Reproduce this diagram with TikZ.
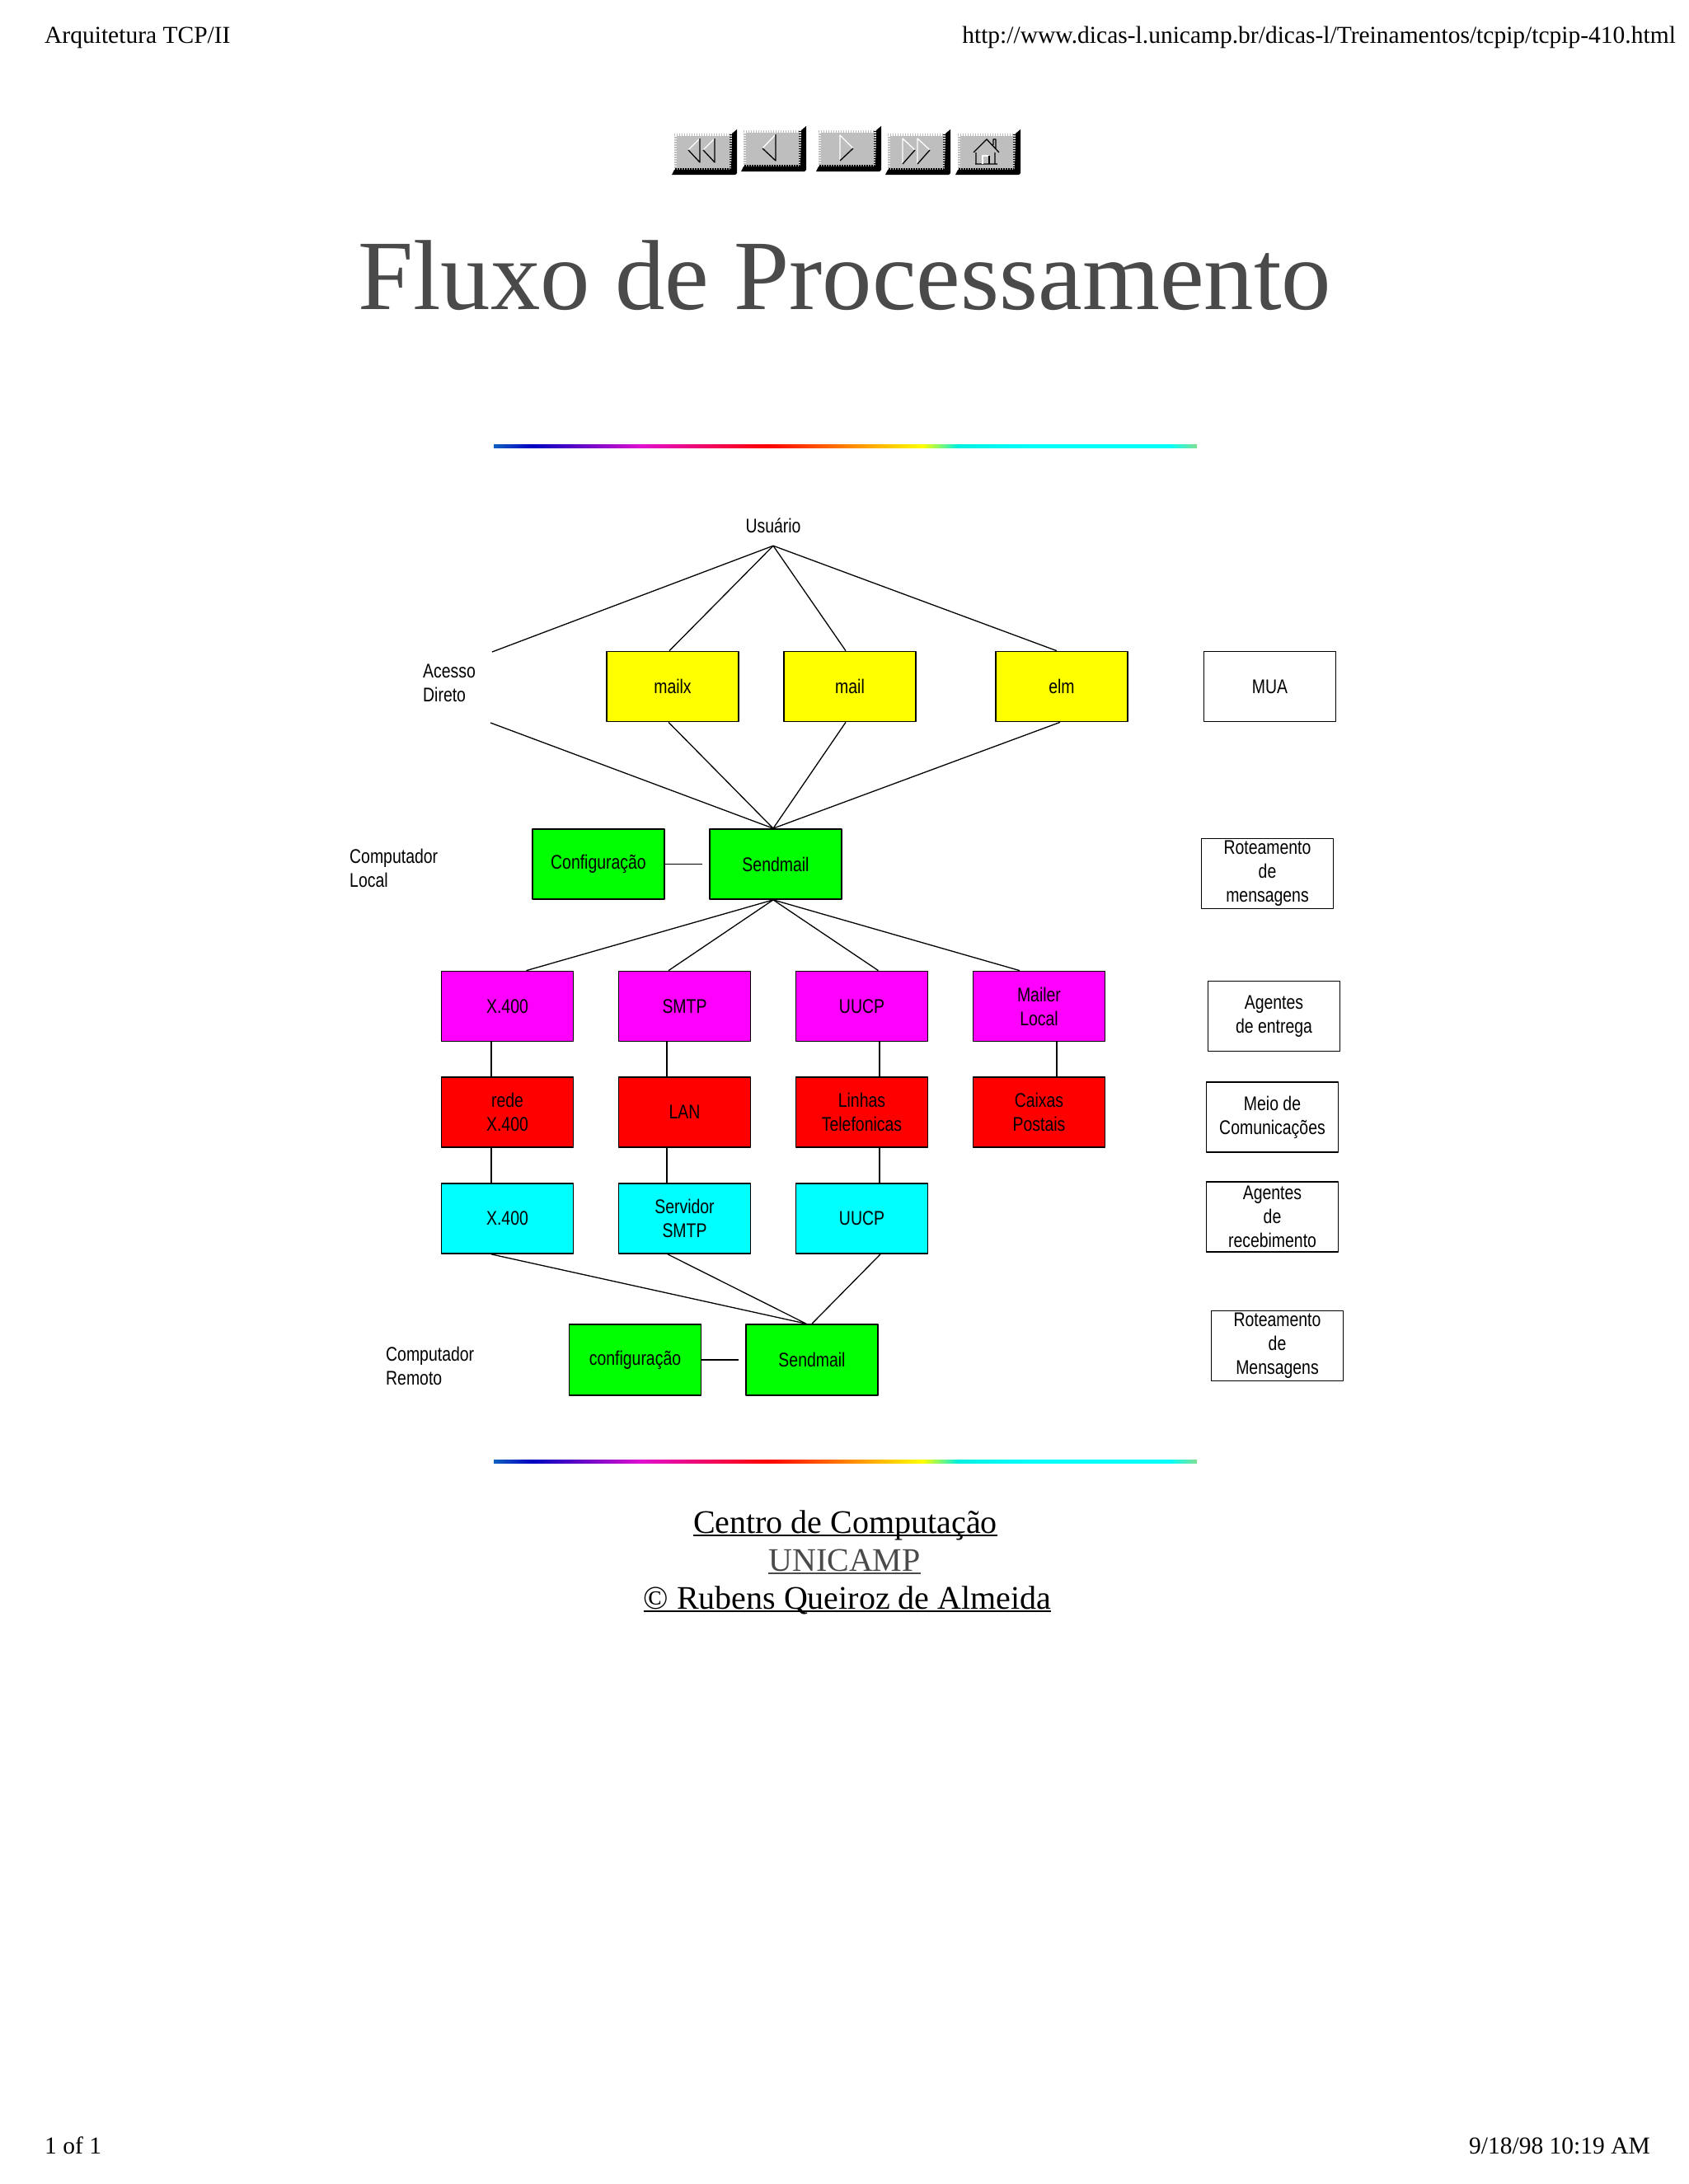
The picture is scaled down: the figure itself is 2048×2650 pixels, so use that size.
\documentclass[tikz,border=0pt]{standalone}
\usepackage{fontspec}
\setmainfont{Liberation Serif}
\newfontfamily\diafont[FakeStretch=0.81]{Liberation Sans}
\definecolor{titlegray}{HTML}{4A4A4A}
\definecolor{facegray}{HTML}{BEBEBE}
\definecolor{boxyellow}{HTML}{FFFF00}
\definecolor{boxgreen}{HTML}{00FF00}
\definecolor{boxmagenta}{HTML}{FF00FF}
\definecolor{boxred}{HTML}{FF0000}
\definecolor{boxcyan}{HTML}{00FFFF}
\definecolor{rbstart}{HTML}{1060C0}
\definecolor{rbblue}{HTML}{0000C0}
\definecolor{rbmagenta}{HTML}{E010D0}
\definecolor{rbcyan}{HTML}{00F0E0}
\definecolor{rbend}{HTML}{80E090}
\pgfdeclarehorizontalshading{rainbowrule}{100bp}{
color(0bp)=(rbstart);
color(25bp)=(rbstart);
color(27.75bp)=(rbblue);
color(35.5bp)=(rbmagenta);
color(44.5bp)=(boxred);
color(55.5bp)=(boxyellow);
color(58bp)=(rbcyan);
color(63bp)=(boxcyan);
color(73bp)=(boxcyan);
color(75bp)=(rbend);
color(100bp)=(rbend)}
\newcommand{\lnk}[1]{\setbox0=\hbox{#1}\rlap{\rule[-4pt]{\wd0}{1.6pt}}\box0}
\tikzset{
dia/.style={font=\diafont\fontsize{24}{29}\selectfont,align=center,inner sep=0pt},
sidetext/.style={dia,align=left,anchor=west},
boxy/.style={dia,draw=black,line width=1.7pt,minimum width=160pt,minimum height=85pt},
lnkline/.style={line width=1.3pt},
rainbow/.style={shading=rainbowrule,shading angle=0},
pagetext/.style={font=\fontsize{29.5}{29.5}\selectfont,inner sep=0pt,anchor=base west},
linktext/.style={font=\fontsize{40}{40}\selectfont,inner sep=0pt,anchor=base}
}
\begin{document}
\begin{tikzpicture}[x=1pt,y=-1pt,line join=round]
\useasboundingbox (0,0) rectangle (2048,2650);
% page header and footer
\node[pagetext] (hdrL) at (54,52) {Arquitetura TCP/II};
\node[pagetext,anchor=base east] (hdrR) at (2033,52) {http://www.dicas-l.unicamp.br/dicas-l/Treinamentos/tcpip/tcpip-410.html};
\node[pagetext] (ftrL) at (54,2613) {1 of 1};
\node[pagetext,anchor=base east] (ftrR) at (2002,2613) {9/18/98 10:19 AM};
% buttons
\foreach \bx/\by in {818/162,902/158,993/158,1077/162,1162/162}{
\begin{scope}[shift={(\bx,\by)}]
\fill[black] (76,-5)--(76,48)--(74,50)--(-3,50)--(0,44)--(69,44)--(70,0)--cycle;
\fill[facegray] (0,0) rectangle (69,44);
\draw[white,line width=3pt,dash pattern=on 1.5pt off 1.5pt] (1,43)--(1,1)--(68,1);
\draw[black,line width=3pt,dash pattern=on 1.5pt off 1.5pt] (1,43)--(68,43)--(68,1);
\end{scope}
}
\begin{scope}[shift={(818,162)},line width=1.3pt]
\foreach \vx/\tx in {31/17,49/35}{
\draw[white] (\vx,6)--(\tx,20);
\draw[black] (\tx,20)--(\vx,35)--(\vx,6);
}
\end{scope}
\begin{scope}[shift={(902,158)},line width=1.3pt]
\draw[white] (39,5)--(23,22);
\draw[black] (23,22)--(39,37)--(39,5);
\end{scope}
\begin{scope}[shift={(993,158)},line width=1.3pt]
\draw[white] (26,37)--(26,6)--(42,22);
\draw[black] (42,22)--(26,37);
\end{scope}
\begin{scope}[shift={(1077,162)},line width=1.3pt]
\foreach \vx/\tx in {18/33,36/51}{
\draw[white] (\vx,37)--(\vx,6)--(\tx,20);
\draw[black] (\tx,20)--(\vx,37);
}
\end{scope}
\begin{scope}[shift={(1162,162)},line width=1.3pt]
\draw[black] (19,23)--(35,7)--(50,23) (43,14)--(43,7)--(46,7)--(46,18)
(22,23)--(22,37) (45,23)--(45,37) (21,37)--(48,37);
\draw[white] (30,37)--(30,27)--(38,27);
\draw[black] (38,27)--(38,37);
\end{scope}
% title
\node[font=\fontsize{120.8}{120.8}\selectfont,text=titlegray,inner sep=0pt,anchor=base] (title) at (1024.5,375) {Fluxo de Processamento};
\shade[rainbow] (599,539) rectangle (1452,543);
\shade[rainbow] (599,1771.5) rectangle (1452,1775.5);
% labels
\node[dia,minimum height=48pt] (usuario) at (938,638) {Usuário};
\node[sidetext] (acesso) at (513,829) {Acesso\\Direto};
\node[sidetext] (compL) at (424,1053) {Computador\\Local};
\node[sidetext] (compR) at (468,1657) {Computador\\Remoto};
% user agents
\node[boxy,fill=boxyellow] (mailx) at (816,833) {mailx};
\node[boxy,fill=boxyellow] (mail) at (1031,833) {mail};
\node[boxy,fill=boxyellow] (elm) at (1288,833) {elm};
% local host
\node[boxy,fill=boxgreen] (cfgL) at (726,1048.5) {Configuração};
\node[boxy,fill=boxgreen] (sendL) at (941,1048.5) {Sendmail};
% delivery agents, media, receiving agents
\node[boxy,fill=boxmagenta] (mgA) at (615.5,1221) {X.400};
\node[boxy,fill=boxmagenta] (mgB) at (830.5,1221) {SMTP};
\node[boxy,fill=boxmagenta] (mgC) at (1045.5,1221) {UUCP};
\node[boxy,fill=boxmagenta] (mgD) at (1260.5,1221) {Mailer\\Local};
\node[boxy,fill=boxred] (rdA) at (615.5,1349.5) {rede\\X.400};
\node[boxy,fill=boxred] (rdB) at (830.5,1349.5) {LAN};
\node[boxy,fill=boxred] (rdC) at (1045.5,1349.5) {Linhas\\Telefonicas};
\node[boxy,fill=boxred] (rdD) at (1260.5,1349.5) {Caixas\\Postais};
\node[boxy,fill=boxcyan] (cyA) at (615.5,1478.5) {X.400};
\node[boxy,fill=boxcyan] (cyB) at (830.5,1478.5) {Servidor\\SMTP};
\node[boxy,fill=boxcyan] (cyC) at (1045.5,1478.5) {UUCP};
% remote host
\node[boxy,fill=boxgreen,minimum height=86pt] (cfgR) at (770.5,1650) {configuração};
\node[boxy,fill=boxgreen,minimum height=86pt] (sendR) at (985,1650) {Sendmail};
% right column
\node[boxy] (rMua) at (1540.5,833) {MUA};
\node[boxy] (rRotA) at (1537.5,1060) {Roteamento\\de\\mensagens};
\node[boxy] (rEnt) at (1545.5,1233) {Agentes\\de entrega};
\node[boxy] (rMeio) at (1543.5,1355.5) {Meio de\\Comunicações};
\node[boxy] (rRec) at (1543.5,1476.5) {Agentes\\de\\recebimento};
\node[boxy] (rRotB) at (1549.5,1633) {Roteamento\\de\\Mensagens};
% connectors
\path
(597,791) coordinate (acessoT)
(595,877) coordinate (acessoB)
([xshift=-3pt]sendL.north) coordinate (sendLT)
([xshift=-3pt]sendL.south) coordinate (sendLB)
([xshift=-7pt]sendR.north) coordinate (sendRT)
;
\begin{scope}[lnkline]
\draw (usuario.south)--(acessoT);
\draw (usuario.south)--([xshift=-4pt]mailx.north);
\draw (usuario.south)--([xshift=-5pt]mail.north);
\draw (usuario.south)--([xshift=-6pt]elm.north);
\draw (acessoB)--(sendLT);
\draw ([xshift=-5pt]mailx.south)--(sendLT);
\draw ([xshift=-5pt]mail.south)--(sendLT);
\draw ([xshift=-2pt]elm.south)--(sendLT);
\draw (cfgL.east)--([xshift=-8pt]sendL.west);
\draw (sendLB)--([xshift=23pt]mgA.north);
\draw (sendLB)--([xshift=-19.5pt]mgB.north);
\draw (sendLB)--([xshift=20pt]mgC.north);
\draw (sendLB)--([xshift=-23.5pt]mgD.north);
\foreach \a/\b/\s in {mgA/rdA/-19.5,mgB/rdB/-21.5,mgC/rdC/21.5,mgD/rdD/21.5,rdA/cyA/-19.5,rdB/cyB/-21.5,rdC/cyC/21.5}{
\draw ([xshift=\s pt]\a.south)--([xshift=\s pt]\b.north);
}
\draw ([xshift=-19.5pt]cyA.south)--(sendRT);
\draw ([xshift=-20.5pt]cyB.south)--(sendRT);
\draw ([xshift=22.5pt]cyC.south)--(sendR.north);
\draw (cfgR.east)--([xshift=-8pt]sendR.west);
\end{scope}
% links under the second rule
\node[linktext] (lnkA) at (1025.5,1860) {\lnk{Centro de Computação}};
\node[linktext,text=titlegray] (lnkB) at (1024.5,1906) {\lnk{UNICAMP}};
\node[linktext] (lnkC) at (1028,1952) {\lnk{© Rubens Queiroz de Almeida}};
\end{tikzpicture}
\end{document}
